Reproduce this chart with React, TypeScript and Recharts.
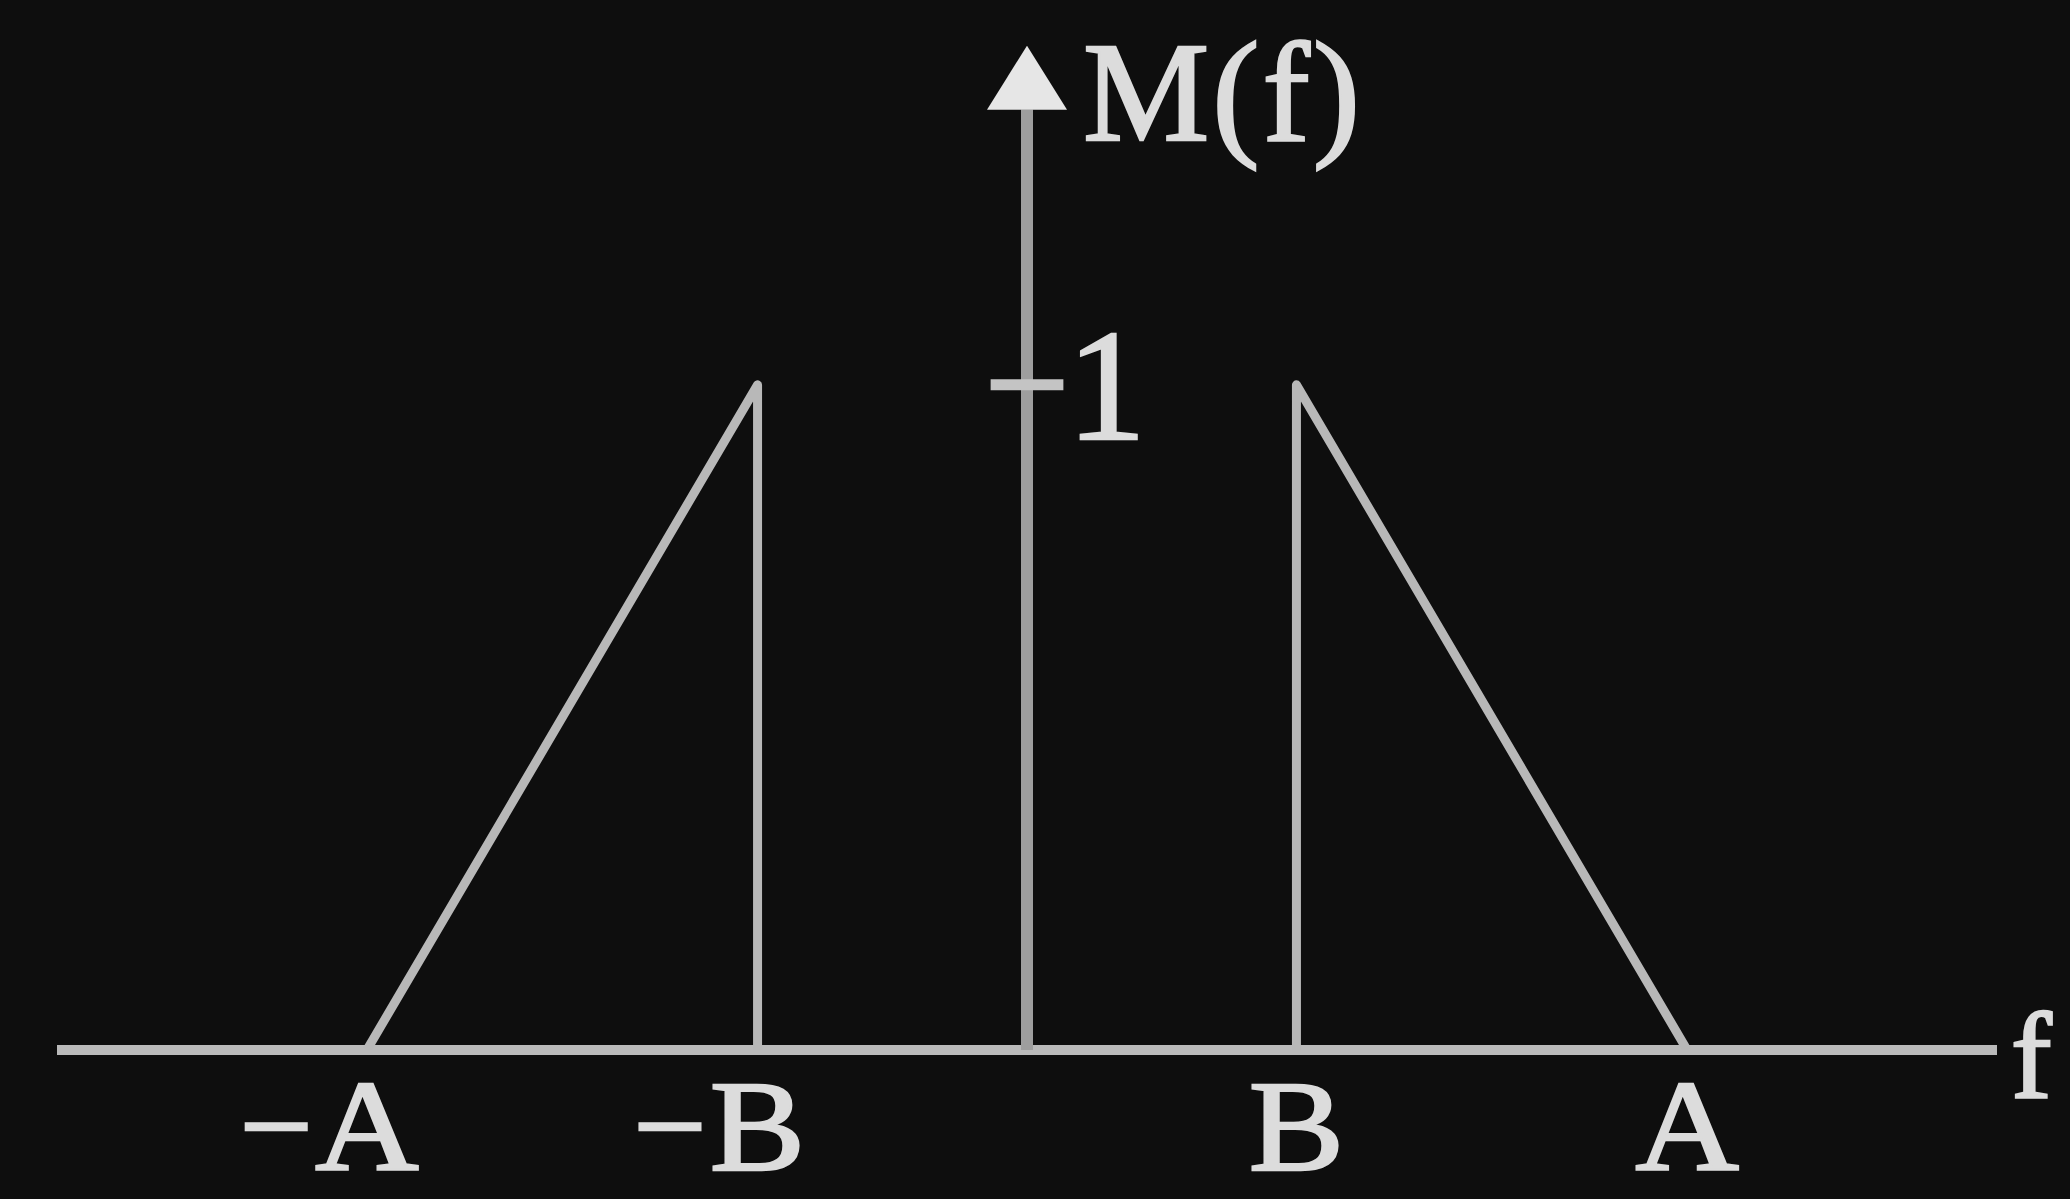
import { Line, LineChart, ReferenceDot, ReferenceLine, XAxis, YAxis } from "recharts";

// Spectrum M(f): two one-sided triangles between |f| = B and |f| = A.
const LOWER_F = [-2.45, -1, -1];
const LOWER_M = [0, 1, 0];
const UPPER_F = [1, 1, 2.45];
const UPPER_M = [0, 1, 0];

const TICK_VALUES = [-2.45, -1, 1, 2.45];
const TICK_LABELS = ["−A", "−B", "B", "A"];
const Y_TICK = 1;
const Y_TICK_LABEL = "1";
const Y_TITLE = "M(f)";
const X_TITLE = "f";

const F_DOMAIN: [number, number] = [-3.6, 3.6];
const M_DOMAIN: [number, number] = [0, 1.52];
const ARROW_TIP = 1.51;
const ARROW_BASE = 1.414;
const TICK_HALF = 0.135;

const lower = LOWER_F.map((f, i) => ({ f, m: LOWER_M[i] }));
const upper = UPPER_F.map((f, i) => ({ f, m: UPPER_M[i] }));

const BG = "#0e0e0e";
const INK = "#dcdcdc";
const LINE = "#b8b8b8";
const FONT = "'Liberation Serif', 'DejaVu Serif', serif";

// heavier glyphs: fill plus a thin outline in the same colour
const textStyle = { fill: INK, stroke: INK, strokeWidth: 2.5, fontFamily: FONT };

function FreqTick(props: any) {
  const { x, y, payload } = props;
  const i = TICK_VALUES.indexOf(payload.value);
  const label = TICK_LABELS[i] ?? "";
  const neg = label.startsWith("−");
  const letter = neg ? label.slice(1) : label;
  const half = letter === "A" ? 50 : 47;
  return (
    <g>
      {neg && (
        <text x={x - half - 4} y={y + 120} textAnchor="end" fontSize={130} {...textStyle}>
          −
        </text>
      )}
      <text
        x={x}
        y={y + 120}
        textAnchor="middle"
        fontSize={130}
        transform={`translate(${x} 0) scale(1.1 1) translate(${-x} 0)`}
        {...textStyle}
      >
        {letter}
      </text>
    </g>
  );
}

export default function App() {
  return (
    <div style={{ position: "absolute", left: 0, top: 0, width: 2070, height: 1199, background: BG }}>
      <LineChart width={2070} height={1199} margin={{ top: 39, right: 73, bottom: 49, left: 57 }}>
        <XAxis
          type="number"
          dataKey="f"
          domain={F_DOMAIN}
          ticks={TICK_VALUES}
          allowDataOverflow
          axisLine={false}
          tickLine={false}
          tickSize={0}
          tickMargin={0}
          height={100}
          interval={0}
          tick={<FreqTick />}
        />
        <YAxis type="number" dataKey="m" domain={M_DOMAIN} allowDataOverflow hide />

        {/* frequency axis */}
        <ReferenceLine y={0} stroke="#bababa" strokeWidth={10} ifOverflow="visible" />
        {/* magnitude axis shaft and unit tick */}
        <ReferenceLine
          segment={[{ x: 0, y: 0 }, { x: 0, y: ARROW_BASE }]}
          stroke="#9e9e9e"
          strokeWidth={12}
          ifOverflow="visible"
        />
        <ReferenceLine
          segment={[{ x: -TICK_HALF, y: Y_TICK }, { x: TICK_HALF, y: Y_TICK }]}
          stroke="#c4c4c4"
          strokeWidth={11}
          ifOverflow="visible"
        />

        <Line
          data={lower}
          dataKey="m"
          type="linear"
          stroke={LINE}
          strokeWidth={9}
          strokeLinejoin="round"
          dot={false}
          isAnimationActive={false}
        />
        <Line
          data={upper}
          dataKey="m"
          type="linear"
          stroke={LINE}
          strokeWidth={9}
          strokeLinejoin="round"
          dot={false}
          isAnimationActive={false}
        />

        <ReferenceDot
          x={0}
          y={ARROW_TIP}
          ifOverflow="visible"
          shape={(p: any) => (
            <g>
              <polygon
                points={`${p.cx},${p.cy} ${p.cx - 40},${p.cy + 64} ${p.cx + 40},${p.cy + 64}`}
                fill="#e6e6e6"
              />
              <text x={p.cx + 56} y={p.cy + 94} fontSize={142} letterSpacing={3} {...textStyle}>
                {Y_TITLE}
              </text>
            </g>
          )}
        />
        <ReferenceDot
          x={0}
          y={Y_TICK}
          ifOverflow="visible"
          shape={(p: any) => (
            <text x={p.cx + 40} y={p.cy + 54} fontSize={158} {...textStyle}>
              {Y_TICK_LABEL}
            </text>
          )}
        />
        <ReferenceDot
          x={F_DOMAIN[1]}
          y={0}
          ifOverflow="visible"
          shape={(p: any) => (
            <text x={p.cx + 14} y={p.cy + 47} fontSize={122} {...textStyle}>
              {X_TITLE}
            </text>
          )}
        />
      </LineChart>
    </div>
  );
}
